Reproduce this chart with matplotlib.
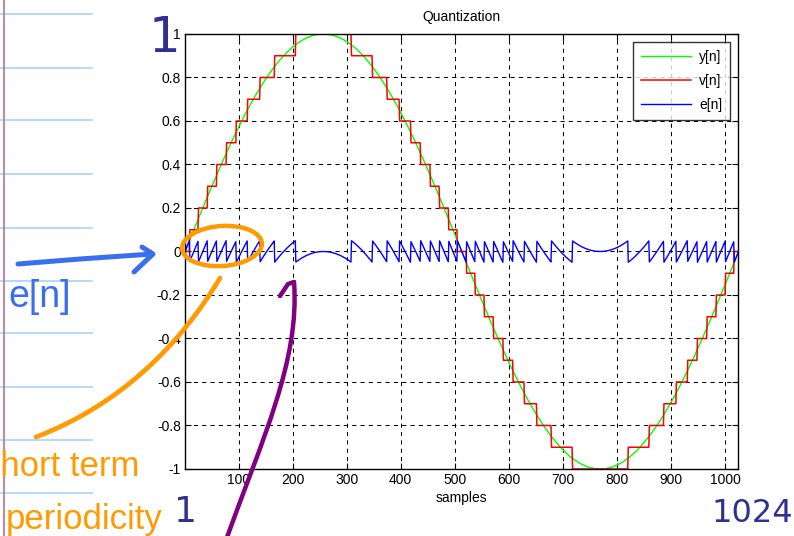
import numpy as np
import matplotlib
matplotlib.use("Agg")
import matplotlib.pyplot as plt
from matplotlib.patches import Ellipse, PathPatch
from matplotlib.path import Path

# signal: one period of a unit sine, 1024 samples, quantized with step 0.1
n_samples = 1024
amplitude = 1.0
q_step = 0.1

n = np.arange(1, n_samples + 1)
y = amplitude * np.sin(2 * np.pi * (n - 1) / n_samples)
v = np.round(y / q_step) * q_step
e = y - v

xticks = [100, 200, 300, 400, 500, 600, 700, 800, 900, 1000]
yticks = [-1, -0.8, -0.6, -0.4, -0.2, 0, 0.2, 0.4, 0.6, 0.8, 1]
ytick_labels = ["-1", "-0.8", "-0.6", "-0.4", "-0.2", "0", "0.2", "0.4", "0.6", "0.8", "1"]
legend_labels = ["y[n]", "v[n]", "e[n]"]

plt.rcParams['font.family'] = ['Liberation Sans', 'DejaVu Sans']

fig = plt.figure(figsize=(7.94, 5.36), dpi=100)
ax = fig.add_axes([0.233, 0.125, 0.6965, 0.8116])

ax.plot(n, y, color='#00ff00', lw=1.0, label=legend_labels[0])
ax.plot(n, v, color='#ff0000', lw=1.1, label=legend_labels[1])
ax.plot(n, e, color='#0000ff', lw=1.0, label=legend_labels[2])

ax.set_xlim(1, n_samples)
ax.set_ylim(-1, 1)
ax.set_xticks(xticks)
ax.set_yticks(yticks)
ax.set_yticklabels(ytick_labels)
ax.tick_params(direction='in', top=True, right=True, length=4, width=0.8,
               labelsize=10, pad=3)
ax.grid(True, color='black', linestyle=(0, (4, 4)), linewidth=0.75)
for s in ax.spines.values():
    s.set_linewidth(1.0)
ax.set_title("Quantization", fontsize=10, pad=9)
ax.set_xlabel("samples", fontsize=10, labelpad=3)

leg = ax.legend(loc='upper right', fontsize=10, frameon=True, fancybox=False,
                edgecolor='black', borderaxespad=0.6, handlelength=3.6,
                handletextpad=0.6, labelspacing=0.72, borderpad=0.55)
leg.get_frame().set_linewidth(1.0)

# ---- handwritten notes on top of the screenshot (figure pixel space) ----
ov = fig.add_axes([0, 0, 1, 1], zorder=10)
ov.set_xlim(0, 794)
ov.set_ylim(536, 0)
ov.axis('off')
ov.patch.set_alpha(0)

# notebook paper
for yy in [14, 68, 120, 174, 228, 281, 333, 387, 440, 493]:
    ov.plot([0, 92], [yy, yy], color='#a8d4f5', lw=1.2, zorder=1)
ov.plot([4, 4], [0, 536], color='#c07090', lw=1.2, zorder=1)

navy = '#2e3192'
blue = '#3a6ef0'
orange = '#ff9a00'
purple = '#800080'

ov.text(164, 38, "1", color=navy, fontsize=36, ha='center', va='center',
        family='DejaVu Sans')
ov.text(185, 512, "1", color=navy, fontsize=26, ha='center', va='center',
        family='DejaVu Sans')
ov.text(752, 514, "1024", color=navy, fontsize=23, ha='center', va='center',
        family='DejaVu Sans')

# blue arrow and e[n]
ov.plot([18, 80, 152], [264, 259, 254], color=blue, lw=3.6,
        solid_capstyle='round')
ov.plot([142, 153, 134], [247, 254, 272], color=blue, lw=3.6,
        solid_capstyle='round', solid_joinstyle='round')
ov.text(8, 297, "e[n]", color=blue, fontsize=27, ha='left', va='center')

# orange circle, pointer and note
ov.add_patch(Ellipse((222, 246), 80, 40, angle=-4, fill=False,
                     edgecolor=orange, lw=3.2))
p = Path([(220, 278), (180, 345), (120, 405), (36, 437)],
         [Path.MOVETO, Path.CURVE4, Path.CURVE4, Path.CURVE4])
ov.add_patch(PathPatch(p, fill=False, edgecolor=orange, lw=3.4,
                       capstyle='round'))
ov.text(-17, 466, "short term", color=orange, fontsize=25, ha='left',
        va='center')
ov.text(6, 520, "periodicity", color=orange, fontsize=25, ha='left',
        va='center')

# purple arrow
p = Path([(226, 540), (262, 440), (300, 360), (294, 282)],
         [Path.MOVETO, Path.CURVE4, Path.CURVE4, Path.CURVE4])
ov.add_patch(PathPatch(p, fill=False, edgecolor=purple, lw=3.2,
                       capstyle='round'))
ov.plot([294, 288, 280], [282, 284, 296], color=purple, lw=3.2,
        solid_capstyle='round')

fig.savefig("out.png", dpi=100, facecolor='white')
